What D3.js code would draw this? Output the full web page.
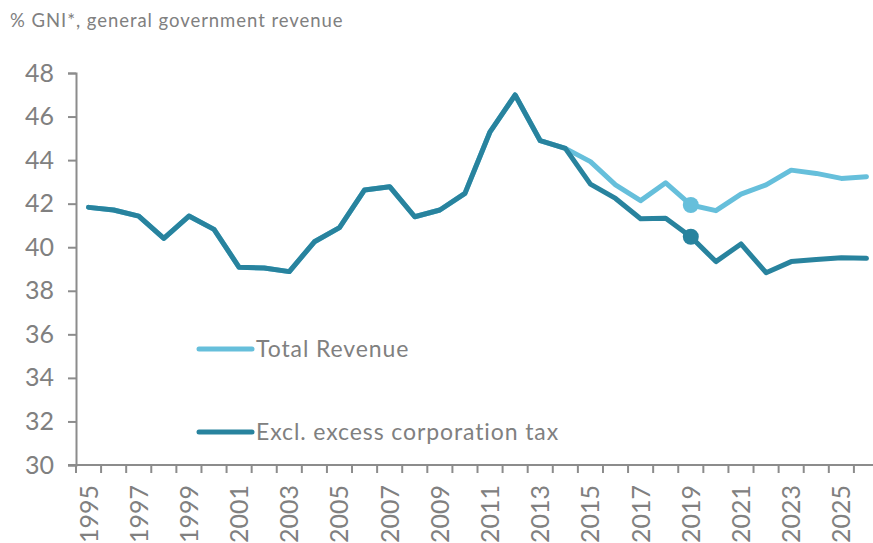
<!DOCTYPE html>
<html>
<head>
<meta charset="utf-8">
<script src="https://cdn.jsdelivr.net/npm/d3@7"></script>
<style>
  html, body { margin: 0; padding: 0; background: #fff; }
  svg { display: block; font-family: Lato, "Noto Sans", sans-serif; }
</style>
</head>
<body>
<svg id="chart" width="873" height="543"></svg>
<script>
const years = d3.range(1995, 2027);
const yearLabels = [1995,1997,1999,2001,2003,2005,2007,2009,2011,2013,2015,2017,2019,2021,2023,2025];
const yTicks = [30,32,34,36,38,40,42,44,46,48];

const excl = [41.83,41.71,41.43,40.41,41.43,40.82,39.08,39.05,38.88,40.25,40.90,42.63,42.78,41.40,41.71,42.47,45.30,46.99,44.89,44.54,42.90,42.24,41.31,41.33,40.48,39.34,40.15,38.83,39.34,39.44,39.52,39.49];
const total = [41.83,41.71,41.43,40.41,41.43,40.82,39.08,39.05,38.88,40.25,40.90,42.63,42.78,41.40,41.71,42.47,45.30,46.99,44.89,44.54,43.93,42.86,42.14,42.96,41.94,41.68,42.44,42.86,43.54,43.39,43.16,43.24];
const markerYear = 2019;

const seriesNames = ["Total Revenue", "Excl. excess corporation tax"];

(function () {
const colors = { light: "#66BFDB", dark: "#28839E" };
const axisColor = "#8c8c8c";
const textColor = "#808080";

const svg = d3.select("#chart");
const mLeft = 76, mRight = 879, mTop = 73, mBottom = 465;

const x = d3.scaleBand().domain(years).range([mLeft, mRight]).padding(0);
const y = d3.scaleLinear().domain([30, 48]).range([mBottom, mTop]);

// title
svg.append("text").attr("x", 10).attr("y", 27)
  .attr("fill", textColor).attr("font-size", 18.5).attr("letter-spacing", 0.95)
  .text("% GNI*, general government revenue");

// y axis
const yAxis = svg.append("g").attr("transform", `translate(${mLeft},0)`)
  .call(d3.axisLeft(y).tickValues(yTicks).tickSize(8).tickPadding(14).tickFormat(d3.format("d")));
yAxis.select(".domain").attr("stroke", axisColor).attr("stroke-width", 2);
yAxis.selectAll(".tick line").attr("stroke", axisColor).attr("stroke-width", 2);
yAxis.selectAll(".tick text").attr("fill", textColor).attr("font-size", 25).attr("font-family", "Lato, sans-serif");

// x axis with ticks between categories
const xg = svg.append("g").attr("transform", `translate(0,${mBottom})`);
xg.append("line").attr("x1", mLeft - 8).attr("x2", 873).attr("y1", 0).attr("y2", 0)
  .attr("stroke", axisColor).attr("stroke-width", 2);
const boundaries = years.map(yr => x(yr));
xg.selectAll("line.tk").data(boundaries).enter().append("line").attr("class", "tk")
  .attr("x1", d => d).attr("x2", d => d).attr("y1", 0).attr("y2", 8)
  .attr("stroke", axisColor).attr("stroke-width", 2);
xg.selectAll("text").data(yearLabels).enter().append("text")
  .attr("transform", d => `translate(${x(d) + x.bandwidth()/2 + 9},20) rotate(-90)`)
  .attr("text-anchor", "end")
  .attr("fill", textColor).attr("font-size", 25)
  .text(d => d);

const line = d3.line().x((d, i) => x(years[i]) + x.bandwidth()/2).y(d => y(d));

svg.append("path").datum(total).attr("d", line).attr("fill", "none")
  .attr("stroke", colors.light).attr("stroke-width", 5).attr("stroke-linejoin", "round").attr("stroke-linecap", "round");
svg.append("path").datum(excl).attr("d", line).attr("fill", "none")
  .attr("stroke", colors.dark).attr("stroke-width", 5).attr("stroke-linejoin", "round").attr("stroke-linecap", "round");

const mi = years.indexOf(markerYear);
svg.append("circle").attr("cx", x(markerYear) + x.bandwidth()/2).attr("cy", y(total[mi])).attr("r", 8).attr("fill", colors.light);
svg.append("circle").attr("cx", x(markerYear) + x.bandwidth()/2).attr("cy", y(excl[mi])).attr("r", 8).attr("fill", colors.dark);

// legend
const legendItems = [
  { name: seriesNames[0], color: colors.light, yy: 349 },
  { name: seriesNames[1], color: colors.dark, yy: 432 }
];
const lg = svg.append("g");
legendItems.forEach(it => {
  lg.append("line").attr("x1", 199).attr("x2", 252).attr("y1", it.yy).attr("y2", it.yy)
    .attr("stroke", it.color).attr("stroke-width", 5).attr("stroke-linecap", "round");
  lg.append("text").attr("x", 256).attr("y", it.yy + 8)
    .attr("fill", textColor).attr("font-size", 23).attr("letter-spacing", 0.9).text(it.name);
});
})();
</script>
</body>
</html>
